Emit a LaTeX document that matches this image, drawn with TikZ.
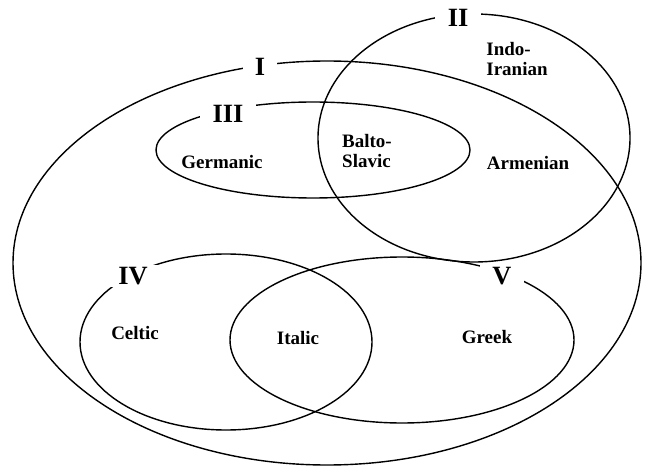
\documentclass[tikz,border=0pt]{standalone}
\usepackage{fontspec}
\setmainfont{Liberation Serif}

\begin{document}
\begin{tikzpicture}[x=0.02cm, y=-0.02cm]
  \tikzstyle{group} = [line width=0.8pt, black]
  \tikzstyle{branch} = [font=\fontsize{10.8}{11.5}\selectfont\bfseries, align=left, inner sep=1pt]
  \tikzstyle{numeral} = [font=\fontsize{15}{17}\selectfont\bfseries, fill=white, inner xsep=7pt, inner ysep=1pt]

  \useasboundingbox (0,0) rectangle (652,476);

  % the five groupings
  \draw[group] (327,263) ellipse (314 and 202);
  \draw[group] (474,138) ellipse (156 and 124);
  \draw[group] (313,150) ellipse (157 and 48);
  \draw[group] (226,342) ellipse (146 and 88);
  \draw[group] (402,340) ellipse (172 and 83);

  % numbers break the outlines
  \node[numeral] (g1) at (260,67) {I};
  \node[numeral] (g2) at (458,18) {II};
  \node[numeral] (g3) at (228,114) {III};
  \node[numeral] (g4) at (133,276) {IV};
  \node[numeral] (g5) at (502,276) {V};

  % branches
  \node[branch] (indoiranian) at (517,59) {Indo-\\Iranian};
  \node[branch] (armenian) at (528,163) {Armenian};
  \node[branch] (germanic) at (222,162) {Germanic};
  \node[branch] (baltoslavic) at (367,151) {Balto-\\Slavic};
  \node[branch] (celtic) at (135,333) {Celtic};
  \node[branch] (italic) at (298,338) {Italic};
  \node[branch] (greek) at (487,337) {Greek};
\end{tikzpicture}
\end{document}
